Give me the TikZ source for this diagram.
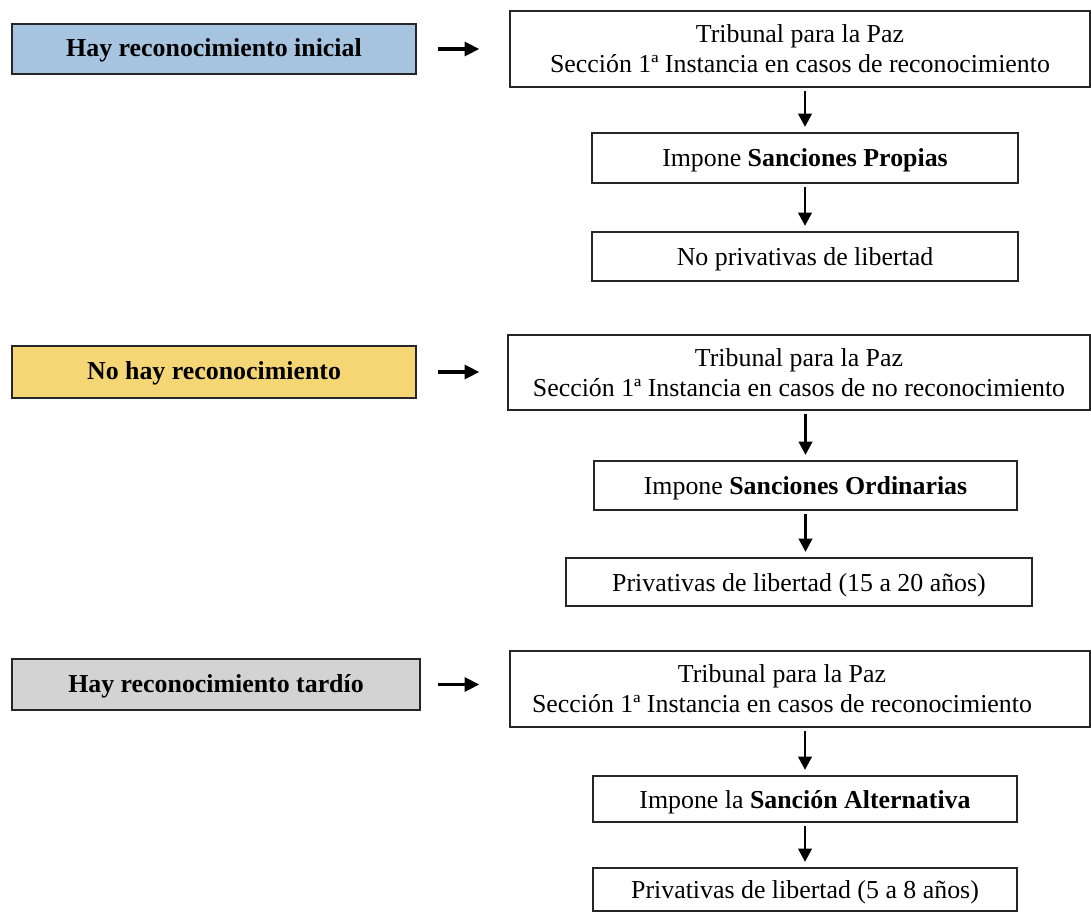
\documentclass[tikz,border=0pt]{standalone}
\usepackage{fontspec}
\setmainfont{Liberation Serif}
\usetikzlibrary{arrows.meta}
\definecolor{cblue}{RGB}{166,196,224}
\definecolor{cyellow}{RGB}{245,214,117}
\definecolor{cgray}{RGB}{211,211,211}
\begin{document}
\begin{tikzpicture}[x=0.75pt,y=-0.75pt,
  box/.style={draw=black!85, line width=1.1pt, inner sep=0pt, align=center,
    font=\fontsize{19.4}{22.5}\selectfont},
  sbox/.style={box, text height=15pt, text depth=1.5pt},
  lbox/.style={box, font=\fontsize{19.4}{22.5}\selectfont\bfseries, text height=14pt, text depth=2pt},
  harr/.style={line width=2.3pt, -{Triangle[length=11pt,width=10.5pt]}},
  varr/.style={line width=2.2pt, -{Triangle[length=10pt,width=10pt]}, shorten <=2.5pt, shorten >=4pt}]
\useasboundingbox (0,0) rectangle (1091,912);

% Section 1
\node[lbox, fill=cblue, minimum width=303pt, minimum height=37.5pt] (l1) at (214,49) {Hay reconocimiento inicial};
\node[box, minimum width=435pt, minimum height=57pt] (t1) at (800,49) {Tribunal para la Paz\\Sección 1ª Instancia en casos de reconocimiento};
\node[sbox, minimum width=319.5pt, minimum height=37.5pt] (i1) at (805,158) {Impone \textbf{Sanciones Propias}};
\node[sbox, minimum width=319.5pt, minimum height=36.75pt] (n1) at (805,256.5) {No privativas de libertad};

% Section 2
\node[lbox, fill=cyellow, minimum width=303pt, minimum height=39pt] (l2) at (214,372) {No hay reconocimiento};
\node[box, minimum width=436.5pt, minimum height=56.25pt] (t2) at (799,372.5) {Tribunal para la Paz\\Sección 1ª Instancia en casos de no reconocimiento};
\node[sbox, minimum width=317.25pt, minimum height=36.75pt] (i2) at (805.5,485.5) {Impone \textbf{Sanciones Ordinarias}};
\node[sbox, minimum width=349.5pt, minimum height=36pt] (p2) at (799,582) {Privativas de libertad (15 a 20 años)};

% Section 3
\node[lbox, fill=cgray, minimum width=306pt, minimum height=38.25pt] (l3) at (216,684.5) {Hay reconocimiento tardío};
\node[box, minimum width=435pt, minimum height=57pt] (t3) at (800,689) {Tribunal para la Paz\hspace*{27pt}\\Sección 1ª Instancia en casos de reconocimiento\hspace*{27pt}};
\node[sbox, minimum width=318pt, minimum height=34.5pt] (i3) at (805,799) {Impone la \textbf{Sanción Alternativa}};
\node[sbox, minimum width=318pt, minimum height=32.25pt] (p3) at (805,889.5) {Privativas de libertad (5 a 8 años)};

% Horizontal arrows
\draw[harr, shorten <=15.75pt, shorten >=22.5pt] (l1.east) -- (l1.east -| t1.west);
\draw[harr, shorten <=15.75pt, shorten >=21pt] (l2.east) -- (l2.east -| t2.west);
\draw[harr, shorten <=12.75pt, shorten >=22.5pt] (l3.east) -- (l3.east -| t3.west);

% Vertical arrows
\draw[varr] (i1.north |- t1.south) -- (i1.north);
\draw[varr] (i1.south) -- (i1.south |- n1.north);
\draw[varr] (i2.north |- t2.south) -- (i2.north);
\draw[varr] (i2.south) -- (i2.south |- p2.north);
\draw[varr] (i3.north |- t3.south) -- (i3.north);
\draw[varr] (i3.south) -- (i3.south |- p3.north);
\end{tikzpicture}
\end{document}
